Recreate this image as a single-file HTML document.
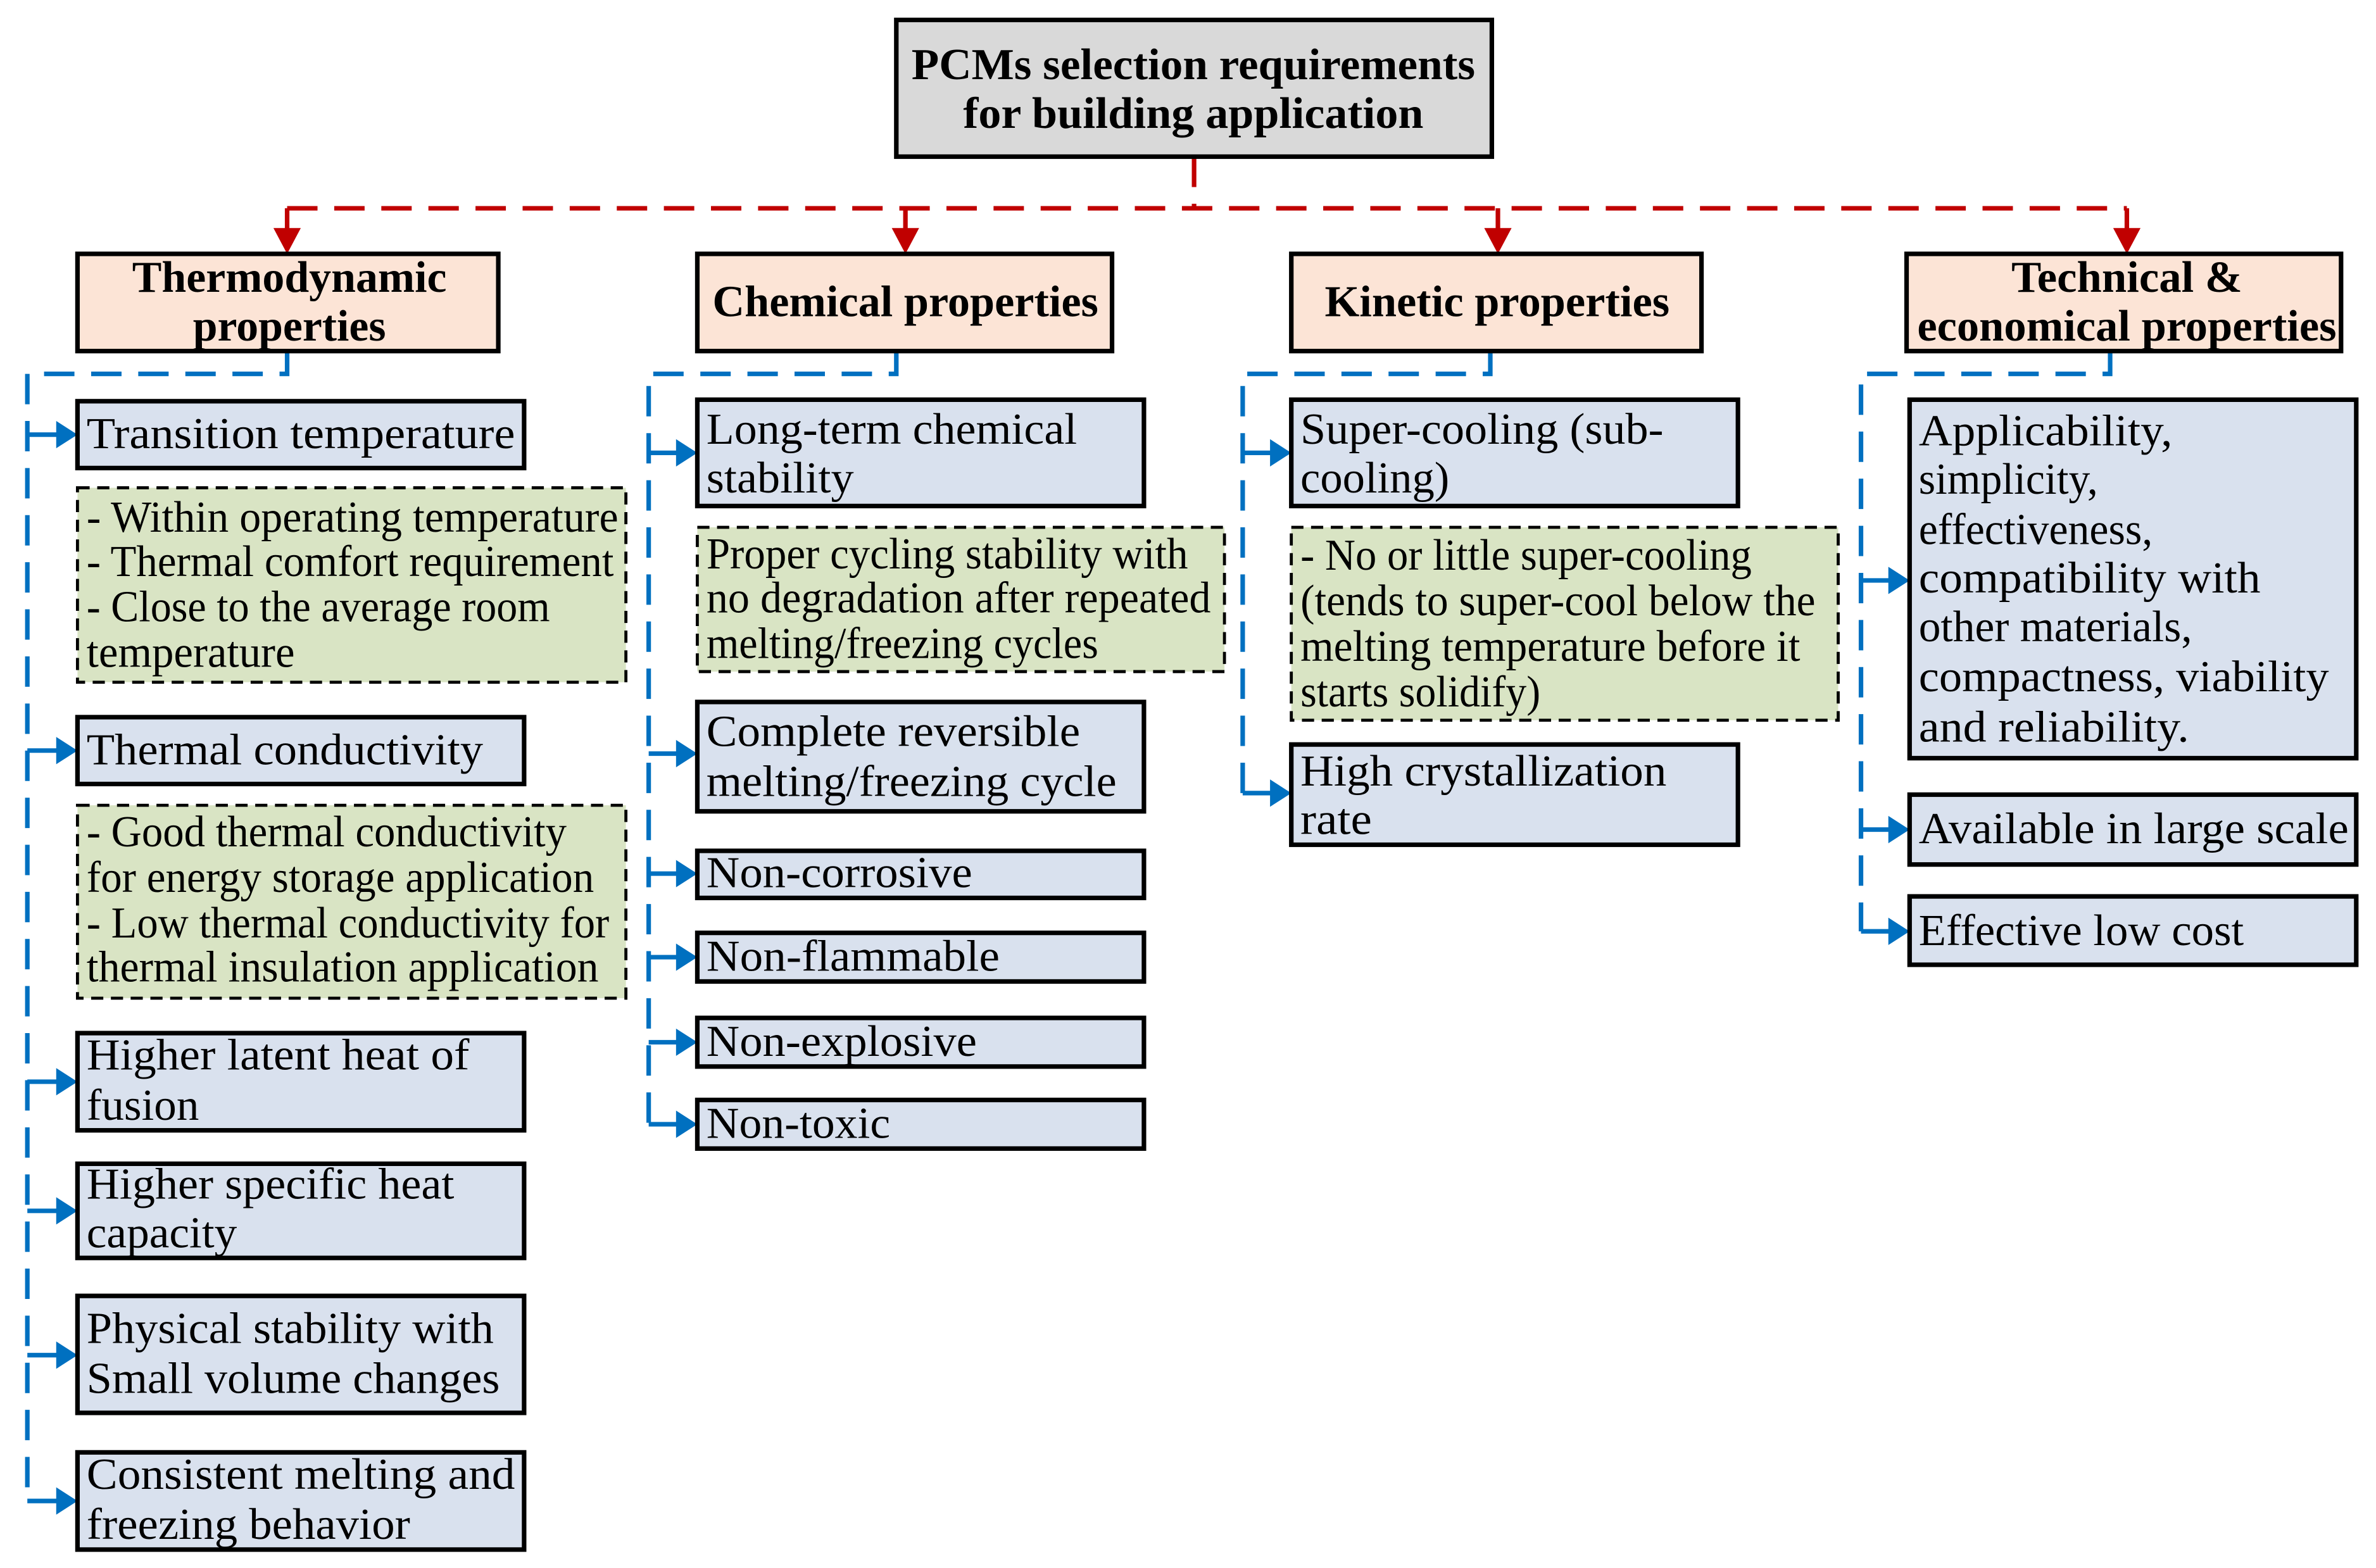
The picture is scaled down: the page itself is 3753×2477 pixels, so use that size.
<!DOCTYPE html>
<html><head><meta charset="utf-8"><style>
html,body{margin:0;padding:0;background:#fff;}
svg{display:block;}
text{font-family:"Liberation Serif",serif;font-size:29px;fill:#000;}
.b{font-weight:bold;}
</style></head><body>
<svg width="3753" height="2477" viewBox="0 0 1564 1032" xmlns="http://www.w3.org/2000/svg">
<g stroke="#c00000" stroke-width="3" fill="none" stroke-dasharray="20,11">
<path d="M786,103 V137"/>
<path d="M189,137 H1400"/>
</g>
<g stroke="#c00000" stroke-width="3">
<path d="M189,137 V152"/><path d="M596,137 V152"/><path d="M986,137 V152"/><path d="M1400,137 V152"/>
</g>
<g fill="#c00000">
<path d="M180,150 L198,150 L189,167z"/><path d="M587,150 L605,150 L596,167z"/><path d="M977,150 L995,150 L986,167z"/><path d="M1391,150 L1409,150 L1400,167z"/>
</g>
<g stroke="#0070c0" stroke-width="3" fill="none" stroke-dasharray="20,11">
<path d="M189,231 V246 H18 V988"/>
<path d="M590,231 V246 H427 V740"/>
<path d="M981,231 V246 H818 V522"/>
<path d="M1389,231 V246 H1225 V613"/>
</g>
<g stroke="#0070c0" stroke-width="3">
<path d="M18,286 H40 M18,494 H40 M18,712 H40 M18,797 H40 M18,892 H40 M18,988 H40"/>
<path d="M427,298 H448 M427,496 H448 M427,575 H448 M427,630 H448 M427,686 H448 M427,740 H448"/>
<path d="M818,298 H839 M818,522 H839"/>
<path d="M1225,382 H1246 M1225,546 H1246 M1225,613 H1246"/>
</g>
<g fill="#0070c0">
<path id="ar" d="M0,-9 L14,0 L0,9z" transform="translate(37,286)"/>
<use href="#ar" transform="translate(0,208)"/><use href="#ar" transform="translate(0,426)"/><use href="#ar" transform="translate(0,511)"/><use href="#ar" transform="translate(0,606)"/><use href="#ar" transform="translate(0,702)"/>
<use href="#ar" transform="translate(408,12)"/><use href="#ar" transform="translate(408,210)"/><use href="#ar" transform="translate(408,289)"/><use href="#ar" transform="translate(408,344)"/><use href="#ar" transform="translate(408,400)"/><use href="#ar" transform="translate(408,454)"/>
<use href="#ar" transform="translate(799,12)"/><use href="#ar" transform="translate(799,236)"/>
<use href="#ar" transform="translate(1206,96)"/><use href="#ar" transform="translate(1206,260)"/><use href="#ar" transform="translate(1206,327)"/>
</g>
<rect x="590" y="13" width="392" height="90" fill="#d9d9d9" stroke="#000" stroke-width="3"/>
<text class="b" x="600" y="52" textLength="371" lengthAdjust="spacingAndGlyphs">PCMs selection requirements</text>
<text class="b" x="634" y="84" textLength="303" lengthAdjust="spacingAndGlyphs">for building application</text>
<g fill="#fce4d6" stroke="#000" stroke-width="3">
<rect x="51" y="167" width="277" height="64"/><rect x="459" y="167" width="273" height="64"/><rect x="850" y="167" width="270" height="64"/><rect x="1255" y="167" width="286" height="64"/>
</g>
<text class="b" x="87" y="192" textLength="207" lengthAdjust="spacingAndGlyphs">Thermodynamic</text>
<text class="b" x="127" y="224" textLength="127" lengthAdjust="spacingAndGlyphs">properties</text>
<text class="b" x="469" y="208" textLength="254" lengthAdjust="spacingAndGlyphs">Chemical properties</text>
<text class="b" x="872" y="208" textLength="227" lengthAdjust="spacingAndGlyphs">Kinetic properties</text>
<text class="b" x="1324" y="192" textLength="152" lengthAdjust="spacingAndGlyphs">Technical &amp;</text>
<text class="b" x="1262" y="224" textLength="276" lengthAdjust="spacingAndGlyphs">economical properties</text>
<g fill="#d9e1ee" stroke="#000" stroke-width="3">
<rect x="51" y="264" width="294" height="44"/>
<rect x="51" y="472" width="294" height="44"/>
<rect x="51" y="680" width="294" height="64"/>
<rect x="51" y="766" width="294" height="62"/>
<rect x="51" y="853" width="294" height="77"/>
<rect x="51" y="956" width="294" height="64"/>
<rect x="459" y="263" width="294" height="70"/>
<rect x="459" y="462" width="294" height="72"/>
<rect x="459" y="560" width="294" height="31"/>
<rect x="459" y="614" width="294" height="32"/>
<rect x="459" y="670" width="294" height="32"/>
<rect x="459" y="724" width="294" height="32"/>
<rect x="850" y="263" width="294" height="70"/>
<rect x="850" y="490" width="294" height="66"/>
<rect x="1257" y="263" width="294" height="236"/>
<rect x="1257" y="523" width="294" height="46"/>
<rect x="1257" y="590" width="294" height="45"/>
</g>
<g fill="#d9e4c4" stroke="#000" stroke-width="2" stroke-dasharray="8,5">
<rect x="51" y="321" width="361" height="128"/>
<rect x="51" y="530" width="361" height="127"/>
<rect x="459" y="347" width="347" height="95"/>
<rect x="850" y="347" width="360" height="127"/>
</g>
<g>
<text x="57" y="295" textLength="282" lengthAdjust="spacingAndGlyphs">Transition temperature</text>
<text x="57" y="350" textLength="350" lengthAdjust="spacingAndGlyphs">- Within operating temperature</text>
<text x="57" y="379" textLength="347" lengthAdjust="spacingAndGlyphs">- Thermal comfort requirement</text>
<text x="57" y="409" textLength="305" lengthAdjust="spacingAndGlyphs">- Close to the average room</text>
<text x="57" y="439" textLength="137" lengthAdjust="spacingAndGlyphs">temperature</text>
<text x="57" y="503" textLength="261" lengthAdjust="spacingAndGlyphs">Thermal conductivity</text>
<text x="57" y="557" textLength="316" lengthAdjust="spacingAndGlyphs">- Good thermal conductivity</text>
<text x="57" y="587" textLength="334" lengthAdjust="spacingAndGlyphs">for energy storage application</text>
<text x="57" y="617" textLength="344" lengthAdjust="spacingAndGlyphs">- Low thermal conductivity for</text>
<text x="57" y="646" textLength="337" lengthAdjust="spacingAndGlyphs">thermal insulation application</text>
<text x="57" y="704" textLength="252" lengthAdjust="spacingAndGlyphs">Higher latent heat of</text>
<text x="57" y="737" textLength="74" lengthAdjust="spacingAndGlyphs">fusion</text>
<text x="57" y="789" textLength="242" lengthAdjust="spacingAndGlyphs">Higher specific heat</text>
<text x="57" y="821" textLength="99" lengthAdjust="spacingAndGlyphs">capacity</text>
<text x="57" y="884" textLength="268" lengthAdjust="spacingAndGlyphs">Physical stability with</text>
<text x="57" y="917" textLength="272" lengthAdjust="spacingAndGlyphs">Small volume changes</text>
<text x="57" y="980" textLength="282" lengthAdjust="spacingAndGlyphs">Consistent melting and</text>
<text x="57" y="1013" textLength="213" lengthAdjust="spacingAndGlyphs">freezing behavior</text>

<text x="465" y="292" textLength="244" lengthAdjust="spacingAndGlyphs">Long-term chemical</text>
<text x="465" y="324" textLength="97" lengthAdjust="spacingAndGlyphs">stability</text>
<text x="465" y="374" textLength="317" lengthAdjust="spacingAndGlyphs">Proper cycling stability with</text>
<text x="465" y="403" textLength="332" lengthAdjust="spacingAndGlyphs">no degradation after repeated</text>
<text x="465" y="433" textLength="258" lengthAdjust="spacingAndGlyphs">melting/freezing cycles</text>
<text x="465" y="491" textLength="246" lengthAdjust="spacingAndGlyphs">Complete reversible</text>
<text x="465" y="524" textLength="270" lengthAdjust="spacingAndGlyphs">melting/freezing cycle</text>
<text x="465" y="584" textLength="175" lengthAdjust="spacingAndGlyphs">Non-corrosive</text>
<text x="465" y="639" textLength="193" lengthAdjust="spacingAndGlyphs">Non-flammable</text>
<text x="465" y="695" textLength="178" lengthAdjust="spacingAndGlyphs">Non-explosive</text>
<text x="465" y="749" textLength="121" lengthAdjust="spacingAndGlyphs">Non-toxic</text>

<text x="856" y="292" textLength="239" lengthAdjust="spacingAndGlyphs">Super-cooling (sub-</text>
<text x="856" y="324" textLength="98" lengthAdjust="spacingAndGlyphs">cooling)</text>
<text x="856" y="375" textLength="297" lengthAdjust="spacingAndGlyphs">- No or little super-cooling</text>
<text x="856" y="405" textLength="339" lengthAdjust="spacingAndGlyphs">(tends to super-cool below the</text>
<text x="856" y="435" textLength="329" lengthAdjust="spacingAndGlyphs">melting temperature before it</text>
<text x="856" y="465" textLength="158" lengthAdjust="spacingAndGlyphs">starts solidify)</text>
<text x="856" y="517" textLength="241" lengthAdjust="spacingAndGlyphs">High crystallization</text>
<text x="856" y="549" textLength="47" lengthAdjust="spacingAndGlyphs">rate</text>

<text x="1263" y="293" textLength="167" lengthAdjust="spacingAndGlyphs">Applicability,</text>
<text x="1263" y="325" textLength="118" lengthAdjust="spacingAndGlyphs">simplicity,</text>
<text x="1263" y="358" textLength="154" lengthAdjust="spacingAndGlyphs">effectiveness,</text>
<text x="1263" y="390" textLength="225" lengthAdjust="spacingAndGlyphs">compatibility with</text>
<text x="1263" y="422" textLength="180" lengthAdjust="spacingAndGlyphs">other materials,</text>
<text x="1263" y="455" textLength="270" lengthAdjust="spacingAndGlyphs">compactness, viability</text>
<text x="1263" y="488" textLength="178" lengthAdjust="spacingAndGlyphs">and reliability.</text>
<text x="1263" y="555" textLength="283" lengthAdjust="spacingAndGlyphs">Available in large scale</text>
<text x="1263" y="622" textLength="214" lengthAdjust="spacingAndGlyphs">Effective low cost</text>
</g>
</svg>
</body></html>
